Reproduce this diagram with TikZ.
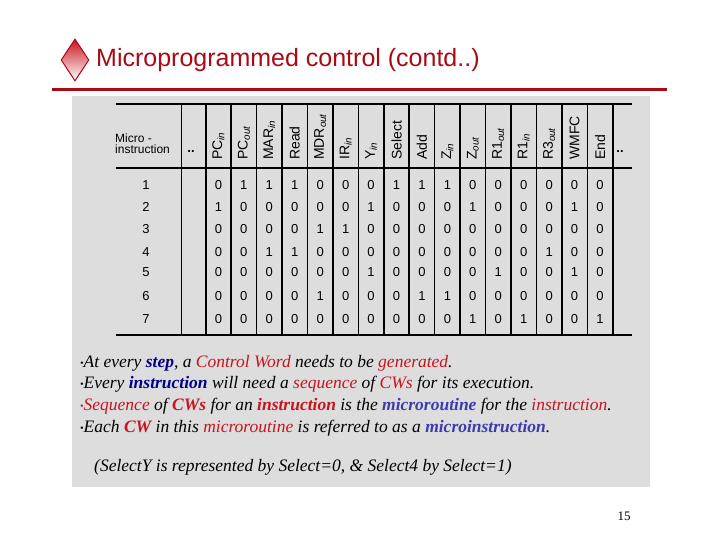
\documentclass[tikz,border=0pt]{standalone}
\usepackage{fontspec}
\setmainfont{Liberation Serif}
\newfontfamily\arial{Liberation Sans}
\usetikzlibrary{shapes.geometric}
\definecolor{tred}{RGB}{200,20,30}
\definecolor{dred}{RGB}{170,10,20}
\definecolor{nblue}{RGB}{0,0,140}
\definecolor{pblue}{RGB}{60,60,175}
\definecolor{gbox}{RGB}{221,221,221}
\newcommand{\sbs}[1]{\textsubscript{\itshape #1}}
\newcommand{\bul}{{\fontsize{10}{10}\selectfont\raisebox{1pt}{\textbullet}}}
\begin{document}
\begin{tikzpicture}[x=1pt,y=-1pt,
  cell/.style={font=\arial\fontsize{13}{13}\selectfont, inner sep=0pt},
  hdr/.style={font=\arial\fontsize{14}{14}\selectfont, rotate=90, anchor=west, inner sep=0pt},
  tline/.style={line width=2pt},
  vline/.style={line width=1.6pt},
  txt/.style={font=\itshape\fontsize{17.5}{17.5}\selectfont, anchor=west, inner sep=0pt}]
\useasboundingbox (0,0) rectangle (720,540);
% title
\node[diamond, draw=dred, line width=1pt, top color=tred, bottom color=white, minimum width=28pt, minimum height=42pt, inner sep=0pt, aspect=0.6] (dia) at (75,60) {};
\node[font=\fontsize{25}{25}\selectfont\arial, text=dred, anchor=west, inner sep=0pt] (title) at (96,60) {Microprogrammed control (contd..)};
\draw[dred, line width=3pt] (52,90) -- (667,90);
\fill[gbox] (72,96) rectangle (650,487);
% table lines
\draw[tline] (116,104) -- (632,104);
\draw[tline] (116,168) -- (632,168);
\draw[tline] (116,335) -- (632,335);
\foreach \i in {0,...,17}{
  \draw[vline] ({181.5+ifthenelse(\i>0,24.2+25.44*(\i-1),0)},104) -- ({181.5+ifthenelse(\i>0,24.2+25.44*(\i-1),0)},335);
}
\node[cell, align=left, anchor=west, font=\arial\fontsize{12}{11}\selectfont] (mi) at (115,144) {Micro -\\instruction};
\node[cell] (dl) at (191,152) {\textbf{..}};
\node[cell] (dr) at (620,152) {\textbf{..}};
\foreach \lab [count=\k from 0] in {PC\sbs{in},PC\sbs{out},MAR\sbs{in},Read,MDR\sbs{out},IR\sbs{in},Y\sbs{in},Select,Add,Z\sbs{in},Z\sbs{out},R1\sbs{out},R1\sbs{in},R3\sbs{out},WMFC,End}{
  \node[hdr] (h\k) at ({205.7+25.44*(\k+0.5)},160) {\lab};
}
\foreach \row [count=\r] in {
 {0,1,1,1,0,0,0,1,1,1,0,0,0,0,0,0},
 {1,0,0,0,0,0,1,0,0,0,1,0,0,0,1,0},
 {0,0,0,0,1,1,0,0,0,0,0,0,0,0,0,0},
 {0,0,1,1,0,0,0,0,0,0,0,0,0,1,0,0},
 {0,0,0,0,0,0,1,0,0,0,0,1,0,0,1,0},
 {0,0,0,0,1,0,0,0,1,1,0,0,0,0,0,0},
 {0,0,0,0,0,0,0,0,0,0,1,0,1,0,0,1}}{
  \pgfmathsetmacro{\yy}{{185,207,229,252,272,296,319}[\r-1]}
  \node[cell] (r\r) at (146,\yy) {\r};
  \foreach \v [count=\k from 0] in \row {
    \node[cell] (c\r-\k) at ({205.7+25.44*(\k+0.5)},\yy) {\v};
  }
}
% text
\node[txt] (t1) at (80,363) {\bul At every \textcolor{nblue}{\bfseries step}, a \textcolor{tred}{Control Word} needs to be \textcolor{tred}{generated}.};
\node[txt] (t2) at (80,384) {\bul Every \textcolor{nblue}{\bfseries instruction} will need a \textcolor{tred}{sequence} of \textcolor{tred}{CWs} for its execution.};
\node[txt] (t3) at (80,406) {\textcolor{tred}{\bul Sequence} of \textcolor{tred}{\bfseries CWs} for an \textcolor{tred}{\bfseries instruction} is the \textcolor{pblue}{\bfseries microroutine} for the \textcolor{tred}{instruction}.};
\node[txt] (t4) at (80,428) {\bul Each \textcolor{tred}{\bfseries CW} in this \textcolor{tred}{microroutine} is referred to as a \textcolor{pblue}{\bfseries microinstruction}.};
\node[txt] (t5) at (94,467) {(SelectY is represented by Select=0, \& Select4 by Select=1)};
\node[font=\fontsize{13}{13}\selectfont, inner sep=0pt] (pg) at (624,516) {15};
\end{tikzpicture}
\end{document}
